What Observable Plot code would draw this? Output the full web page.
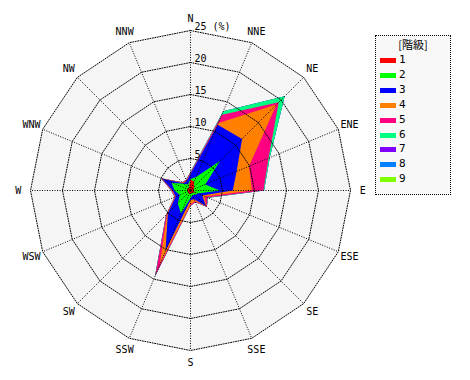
<!DOCTYPE html>
<html><head><meta charset="utf-8">
<script src="https://cdn.jsdelivr.net/npm/d3@7"></script>
<script src="https://cdn.jsdelivr.net/npm/@observablehq/plot@0.6"></script>
<style>
body{margin:0;background:#fff;}
#wrap{position:relative;width:470px;height:380px;}
#legend{position:absolute;left:375px;top:35px;width:74px;height:158px;border:1px dotted #000;background:#f8f8f8;font-family:"DejaVu Sans Mono","Noto Sans CJK JP",monospace;font-size:11px;color:#000;}
#legend .title{position:absolute;left:0;width:100%;top:1px;text-align:center;font-family:"Noto Sans CJK JP","DejaVu Sans Mono",monospace;font-size:11px;line-height:14px;}
#legend .row{position:absolute;left:4px;height:14px;line-height:14px;}
#legend .sw{position:absolute;left:0;top:5px;width:16px;height:5px;}
#legend .lb{position:absolute;left:19px;top:0;}
</style>
</head><body>
<div id="wrap"></div>
<script>
// 16 wind directions
const directions = ["N","NNE","NE","ENE","E","ESE","SE","SSE","S","SSW","SW","WSW","W","WNW","NW","NNW"];
// classes (階級) and colors
const classes = ["1","2","3","4","5","6","7","8","9"];
const classColors = ["#ff0000","#00ff00","#0000ff","#ff8000","#ff0080","#00ff80","#8000ff","#0080ff","#80ff00"];
// frequency (%) of each class per direction (not cumulative)
const class1 = [1.7, 1.5, 0.8, 0.6, 0.5, 0.8, 0.5, 0.4, 0.5, 0.6, 0.5, 0.4, 0.5, 0.6, 0.5, 0.6];
const class2 = [0.1, 0.8, 5.7, 1.9, 4.1, 0.4, 0.5, 0.4, 0.7, 3.3, 2.3, 1.4, 2.0, 2.6, 1.0, 0.4];
const class3 = [0.8, 8.8, 4.9, 5.3, 2.0, 0.8, 2.4, 0.7, 0.3, 6.3, 2.2, 0.7, 0.3, 1.6, 0.1, 0.6];
const class4 = [0.1, 0.3, 7.6, 2.1, 3.0, 0.4, 0.1, 0.3, 0.7, 2.3, 0.2, 0.1, 0.1, 0.1, 0.1, 0.1];
const class5 = [0.1, 1.4, 0.5, 3.3, 1.8, 0.5, 0.1, 0.2, 0.2, 1.9, 0.2, 0.1, 0.1, 0.1, 0.1, 0.1];
const class6 = [0.1, 0.6, 1.3, 0.2, 0.1, 0.1, 0.0, 0.0, 0.0, 0.1, 0.0, 0.0, 0.0, 0.0, 0.0, 0.0];
const class7 = [0,0,0,0,0,0,0,0,0,0,0,0,0,0,0,0];
const class8 = [0,0,0,0,0,0,0,0,0,0,0,0,0,0,0,0];
const class9 = [0,0,0,0,0,0,0,0,0,0,0,0,0,0,0,0];
// radial grid / tick labels
const ringValues = [5, 10, 15, 20, 25];
const ringLabels = ["5", "10", "15", "20", "25 (%)"];

const series = [class1,class2,class3,class4,class5,class6,class7,class8,class9];
const ang = i => i * Math.PI * 2 / directions.length;
const px = (r, i) => r * Math.sin(ang(i));
const py = (r, i) => r * Math.cos(ang(i));

// cumulative polygons
const cum = directions.map(() => 0);
const polys = series.map((s, k) => {
  s.forEach((v, i) => cum[i] += v);
  return directions.map((d, i) => ({cls: classes[k], dir: d, x: px(cum[i], i), y: py(cum[i], i)}));
});

const maxR = ringValues[ringValues.length - 1];
const ringPts = ringValues.flatMap(r => directions.map((d, i) => ({r, x: px(r, i), y: py(r, i)})));
const outer = directions.map((d, i) => ({x: px(maxR, i), y: py(maxR, i)}));
const spokes = directions.map((d, i) => ({dir: d, x2: px(maxR, i), y2: py(maxR, i)}));
const labR = maxR * 1.076;
const dirLabels = directions.map((d, i) => ({dir: d, x: px(labR, i), y: py(labR, i)}));
const rings = ringValues.map((r, j) => ({r, label: ringLabels[j]}));

const s = 190 / 6.4; // % extent left of center
const plot = Plot.plot({
  width: 470, height: 380, margin: 0,
  x: {domain: [-s, 280 / 6.4]},
  y: {domain: [-s, s]},
  axis: null,
  style: {fontFamily: "'DejaVu Sans Mono', monospace", fontSize: "10px", background: "#fff", color: "#000"},
  marks: [
    Plot.line(outer, {x: "x", y: "y", fill: "#f5f5f5", stroke: null, curve: "linear-closed"}),
    ...polys.slice().reverse().map((p, j) => Plot.line(p, {x: "x", y: "y", fill: classColors[classes.length - 1 - j], stroke: null, curve: "linear-closed"})),
    Plot.line(ringPts, {x: "x", y: "y", z: "r", stroke: "#000", strokeWidth: 1, strokeDasharray: "1,1.5", curve: "linear-closed"}),
    Plot.link(spokes, {x1: 0, y1: 0, x2: "x2", y2: "y2", stroke: "#000", strokeWidth: 1, strokeDasharray: "1,1.5"}),
    Plot.text(dirLabels, {x: "x", y: "y", text: "dir", fill: "#000"}),
    Plot.text(rings, {x: 0, y: "r", text: "label", textAnchor: "start", dx: 4, dy: -4, fill: "#000"})
  ]
});
document.getElementById("wrap").appendChild(plot);

// legend
const leg = document.createElement("div");
leg.id = "legend";
leg.innerHTML = '<div class="title">[階級]</div>';
classes.forEach((c, i) => {
  const row = document.createElement("div");
  row.className = "row";
  row.style.top = (17 + i * 14.9) + "px";
  row.innerHTML = `<div class="sw" style="background:${classColors[i]}"></div><div class="lb">${c}</div>`;
  leg.appendChild(row);
});
document.getElementById("wrap").appendChild(leg);
</script>
</body></html>
